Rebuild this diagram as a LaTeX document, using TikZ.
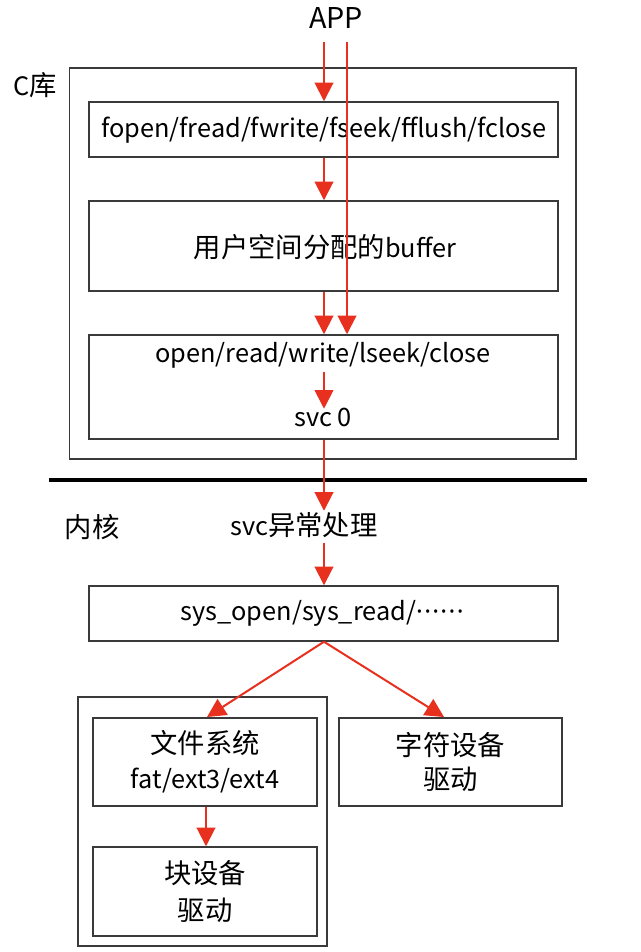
\documentclass[tikz,border=0pt]{standalone}
\usepackage{fontspec}
\setmainfont{Noto Sans CJK SC}
\newfontfamily\dotfont{Noto Sans}
\usetikzlibrary{arrows.meta}
\definecolor{arrred}{HTML}{E8301E}
\definecolor{boxgray}{HTML}{3A3A3A}
\newcommand{\zh}[1]{{\fontsize{20.5}{24}\selectfont #1}}
\begin{document}
\begin{tikzpicture}[x=0.75pt,y=-0.75pt,
  box/.style={draw=boxgray, line width=1.1pt, fill=white, inner sep=0pt},
  lbl/.style={inner sep=0pt, font=\fontsize{19}{22}\selectfont},
  twoline/.style={align=center, font=\fontsize{19}{26}\selectfont},
  redarr/.style={draw=arrred, line width=1.5pt, -{Triangle[width=14pt,length=14pt]}, arrred}]
\useasboundingbox (0,0) rectangle (641,952);
\fill[white] (0,0) rectangle (641,952);
% C library
\node[box, minimum width=379.9pt, minimum height=293.25pt] (clib) at (322.75,263.5) {};
\node[lbl] (clibl) at (35,85) {C\zh{库}};
\node[box, minimum width=351.75pt, minimum height=41.25pt] (fopen) at (323.5,129.5) {};
\node[lbl] (fopent) at (324,130) {fopen/fread/fwrite/fseek/fflush/fclose};
\node[box, minimum width=351.75pt, minimum height=67.5pt] (buf) at (323.5,246) {};
\node[lbl] (buft) at (325,247) {\zh{用户空间分配的}buffer};
\node[box, minimum width=351.75pt, minimum height=78pt] (open) at (323.5,387) {};
\node[lbl] (opent) at (323,355) {open/read/write/lseek/close};
\node[lbl] (svc0) at (323,417) {svc 0};
% APP
\node[inner sep=0pt, font=\fontsize{21.5}{24}\selectfont] (app) at (336,18) {APP};
\coordinate (a1) at (324,42);
\coordinate (a2) at (347,42);
% divider
\coordinate (d1) at (49,480);
\coordinate (d2) at (587,480);
\draw[black, line width=2.4pt] (d1) -- (d2);
% kernel
\node[lbl] (kern) at (92,527) {\zh{内核}};
\node[lbl] (svcx) at (304,525) {svc\zh{异常处理}};
\node[box, minimum width=351.75pt, minimum height=41.25pt] (sys) at (323.5,613.5) {};
\node[lbl] (syst) at (322,613) {sys\_open/sys\_read/{\dotfont ·\kern1pt·\kern1pt·\kern1pt·\kern1pt·\kern1pt·}};
\node[box, minimum width=186.75pt, minimum height=186.75pt] (fsout) at (202.5,821.5) {};
\node[box, minimum width=168pt, minimum height=66pt, twoline] (fs) at (205,762) {\zh{文件系统}\\fat/ext3/ext4};
\node[box, minimum width=168pt, minimum height=66.75pt, twoline, font=\fontsize{19}{28}\selectfont] (blk) at (205,891.5) {\zh{块设备}\\\zh{驱动}};
\node[box, minimum width=167.25pt, minimum height=66pt, twoline] (chr) at (450.5,762) {\zh{字符设备}\\\zh{驱动}};
% arrows
\draw[redarr] (a1) -- (a1 |- fopen.north);
\draw[redarr] (a2) -- (a2 |- open.north);
\draw[redarr] (a1 |- fopen.south) -- (a1 |- buf.north);
\draw[redarr] (a1 |- buf.south) -- (a1 |- open.north);
\draw[redarr] ([yshift=-3pt]a1 |- opent.south) -- ([yshift=-1pt]a1 |- svc0.north);
\draw[redarr] (a1 |- open.south) -- ([yshift=1pt]a1 |- svcx.north);
\draw[redarr] ([yshift=-4pt]a1 |- svcx.south) -- (a1 |- sys.north);
\coordinate (fsn) at (207,717);
\coordinate (chn) at (444,717);
\draw[redarr] (a1 |- sys.south) -- (fsn);
\draw[redarr] (a1 |- sys.south) -- (chn);
\draw[redarr] (fs.south -| 206,0) -- (blk.north -| 206,0);
\end{tikzpicture}
\end{document}
